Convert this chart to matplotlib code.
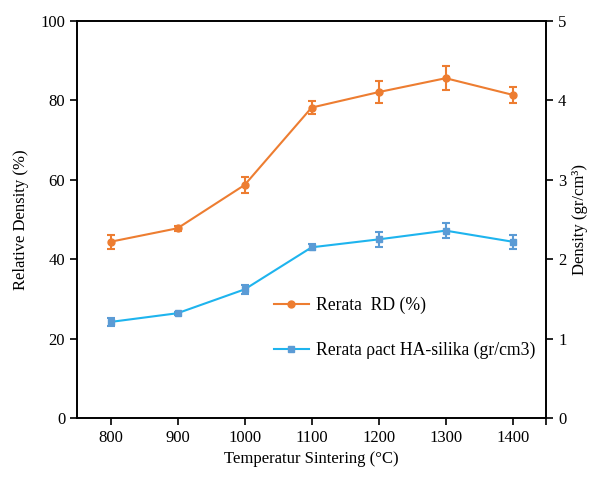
import matplotlib
matplotlib.use("Agg")
import matplotlib.pyplot as plt
from matplotlib.lines import Line2D
import numpy as np

temps = ["800", "900", "1000", "1100", "1200", "1300", "1400"]
rd = [44.4, 47.8, 58.7, 78.2, 82.1, 85.6, 81.4]
rd_err = [1.8, 0.6, 2.1, 1.6, 2.8, 3.0, 2.1]
dens = [1.21, 1.32, 1.62, 2.15, 2.25, 2.36, 2.22]
dens_err = [0.055, 0.02, 0.055, 0.04, 0.09, 0.09, 0.085]

plt.rcParams['font.family'] = ['Liberation Serif', 'DejaVu Serif']
plt.rcParams['font.size'] = 12

fig = plt.figure(figsize=(5.97, 4.78), dpi=100)
ax = fig.add_axes([0.129, 0.1255, 0.786, 0.8305])
ax2 = ax.twinx()

x = np.arange(len(temps))
orange = '#ED7D31'
blue_line = '#1EB4EE'
blue_mk = '#5B9BD5'

ax.errorbar(x, rd, yerr=rd_err, color=orange, marker='o', markersize=5,
            lw=1.5, capsize=3, elinewidth=1.5, capthick=1.5)
ax2.errorbar(x, dens, yerr=dens_err, color=blue_line, marker='s', markersize=5,
             mfc=blue_mk, mec=blue_mk, ecolor=blue_mk, lw=1.5, capsize=3,
             elinewidth=1.5, capthick=1.5)

ax.set_xlim(-0.5, 6.5)
ax.set_ylim(0, 100)
ax2.set_ylim(0, 5)
ax.set_yticks(np.arange(0, 101, 20))
ax2.set_yticks(np.arange(0, 6, 1))
ax.set_xticks(list(x) + [6.5])
ax.set_xticklabels(temps + [""])

for a in (ax, ax2):
    for s in a.spines.values():
        s.set_linewidth(1.2)
    a.tick_params(direction='out', length=5, width=1.2, labelsize=12)

ax.set_xlabel('Temperatur Sintering (°C)', fontsize=12)
ax.set_ylabel('Relative Density (%)', fontsize=12, labelpad=8)
ax2.set_ylabel('Density (gr/cm³)', fontsize=12)

h1 = Line2D([], [], color=orange, marker='o', markersize=5, lw=1.5)
h2 = Line2D([], [], color=blue_line, marker='s', markersize=5, mfc=blue_mk, mec=blue_mk, lw=1.5)
ax2.legend([h1, h2], ['Rerata  RD (%)', 'Rerata ρact HA-silika (gr/cm3)'],
           loc='upper left', bbox_to_anchor=(0.385, 0.345), frameon=False,
           fontsize=12.7, labelspacing=1.58, handlelength=2.0, handletextpad=0.4)

fig.savefig('out.png', dpi=100)
